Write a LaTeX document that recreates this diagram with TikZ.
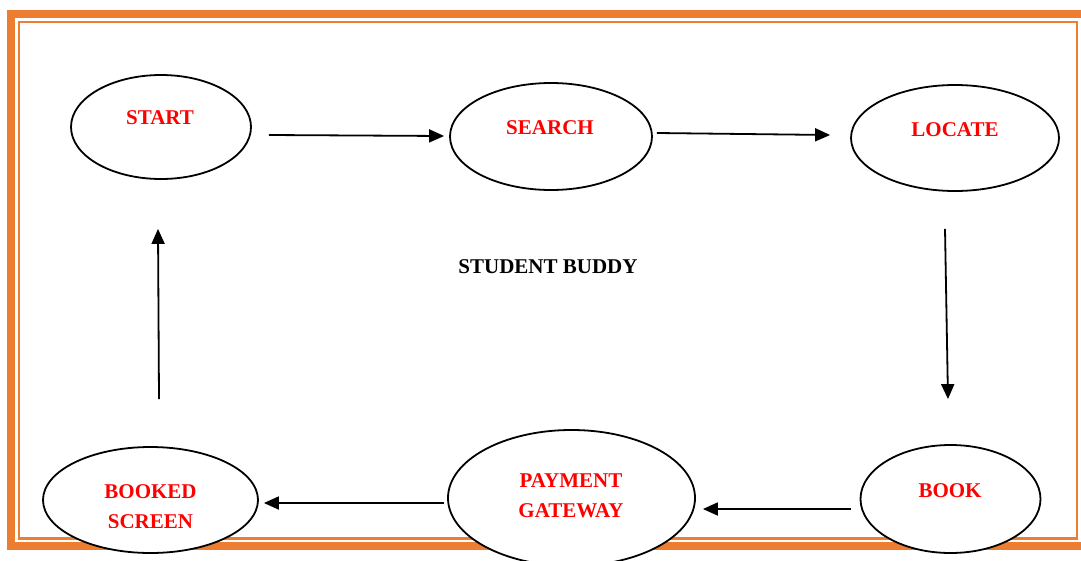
\documentclass[tikz,border=0pt]{standalone}
\usepackage{fontspec}
\setmainfont{Liberation Serif}
\usetikzlibrary{shapes.geometric,arrows.meta,calc}
\definecolor{frameorange}{HTML}{ED7D31}
\definecolor{txtred}{HTML}{FF0000}
\tikzset{
  stateellipse/.style={ellipse,draw=black,line width=1.8pt,fill=white,inner sep=0pt},
  lbl/.style={anchor=base,text=txtred,font=\fontsize{21}{25}\selectfont\bfseries,inner sep=0pt},
  arr/.style={line width=1.8pt,-{Triangle[length=15pt,width=13pt]}}
}
\begin{document}
\begin{tikzpicture}[x=1pt,y=-1pt]
\useasboundingbox (0,0) rectangle (1081,560);
% frame
\draw[frameorange,line width=8pt] (11,14) rectangle (1090,545.5);
\draw[frameorange,line width=2.5pt] (19,22) rectangle (1077,538.5);
% states
\node[stateellipse,minimum width=180pt,minimum height=104pt] (start) at (161,127) {};
\node[stateellipse,minimum width=202pt,minimum height=107pt] (search) at (551,136.5) {};
\node[stateellipse,minimum width=208pt,minimum height=106pt] (locate) at (955,138) {};
\node[stateellipse,minimum width=180pt,minimum height=108pt] (book) at (950.5,499) {};
\node[stateellipse,minimum width=247pt,minimum height=136pt] (pay) at (571.5,498) {};
\node[stateellipse,minimum width=215pt,minimum height=106pt] (booked) at (150.5,500) {};
% labels
\node[lbl] (tstart) at (160,124) {START};
\node[lbl] (tsearch) at (550,134) {SEARCH};
\node[lbl] (tlocate) at (955,136) {LOCATE};
\node[lbl] (tbook) at (950,497) {BOOK};
\node[lbl] (tpay1) at (571,487) {PAYMENT};
\node[lbl] (tpay2) at (571,517) {GATEWAY};
\node[lbl] (tbooked1) at (150.5,498) {BOOKED};
\begin{scope}
\clip (0,0) rectangle (1081,527);
\node[lbl] (tbooked2) at (150.5,528.5) {SCREEN};
\end{scope}
\node[lbl,text=black] (title) at (548,273) {STUDENT BUDDY};
% connectors
\draw[arr] ($(start.east)+(17,8)$) -- ($(search.west)+(-5,-0.5)$);
\draw[arr] ($(search.east)+(4,-3.5)$) -- ($(locate.west)+(-20,-3)$);
\draw[arr] ($(locate.south)+(-10,37)$) -- ($(book.north)+(-2.5,-45)$);
\draw[arr] ($(book.west)+(-8.5,10)$) -- ($(pay.east)+(7,11)$);
\draw[arr] ($(pay.west)+(-3,5)$) -- ($(booked.east)+(5,3)$);
\draw[arr] ($(booked.north)+(8.5,-47)$) -- ($(start.south)+(-3,49)$);
\end{tikzpicture}
\end{document}
